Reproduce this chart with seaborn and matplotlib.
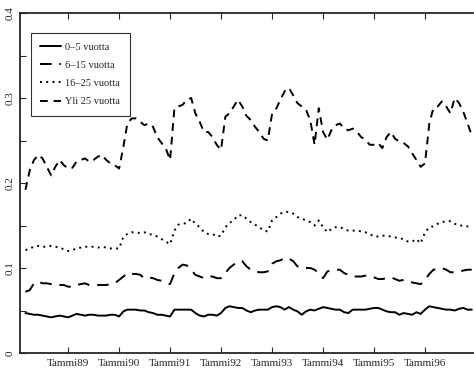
import pandas as pd
import numpy as np
import matplotlib.pyplot as plt
import seaborn as sns

# Monthly shares, March 1988 - December 1996
months = pd.date_range("1988-03-01", "1996-12-01", freq="MS")

ika_0_5 = [
    0.047, 0.046, 0.045, 0.045, 0.044, 0.043, 0.042, 0.043, 0.044, 0.043,
    0.042, 0.044, 0.046, 0.045, 0.044, 0.045, 0.045, 0.044, 0.044, 0.044, 0.045, 0.045,
    0.043, 0.049, 0.051, 0.051, 0.051, 0.050, 0.050, 0.048, 0.047, 0.045, 0.045, 0.044,
    0.043, 0.051, 0.051, 0.051, 0.051, 0.051, 0.047, 0.044, 0.043, 0.045, 0.045, 0.044,
    0.047, 0.053, 0.055, 0.054, 0.053, 0.053, 0.050, 0.048, 0.050, 0.051, 0.051, 0.051,
    0.054, 0.055, 0.054, 0.051, 0.054, 0.051, 0.049, 0.045, 0.049, 0.051, 0.050, 0.052,
    0.054, 0.053, 0.052, 0.051, 0.051, 0.048, 0.047, 0.051, 0.051, 0.051, 0.051, 0.052,
    0.053, 0.053, 0.051, 0.049, 0.048, 0.048, 0.045, 0.047, 0.046, 0.045, 0.048, 0.046,
    0.051, 0.055, 0.054, 0.053, 0.052, 0.051, 0.051, 0.050, 0.052, 0.053, 0.051, 0.051,
]
ika_6_15 = [
    0.072, 0.074, 0.082, 0.084, 0.082, 0.082, 0.081, 0.080, 0.080, 0.080,
    0.078, 0.078, 0.080, 0.081, 0.082, 0.080, 0.080, 0.080, 0.080, 0.080, 0.081, 0.082,
    0.086, 0.090, 0.094, 0.093, 0.093, 0.092, 0.088, 0.089, 0.088, 0.086, 0.085, 0.083,
    0.081, 0.094, 0.100, 0.104, 0.103, 0.098, 0.092, 0.090, 0.088, 0.090, 0.090, 0.088,
    0.088, 0.094, 0.100, 0.104, 0.108, 0.108, 0.102, 0.098, 0.096, 0.095, 0.095, 0.096,
    0.105, 0.108, 0.109, 0.112, 0.111, 0.108, 0.102, 0.100, 0.100, 0.100, 0.098, 0.094,
    0.088, 0.096, 0.097, 0.098, 0.098, 0.094, 0.092, 0.090, 0.090, 0.090, 0.091, 0.091,
    0.089, 0.087, 0.087, 0.088, 0.089, 0.087, 0.085, 0.086, 0.084, 0.083, 0.082, 0.081,
    0.086, 0.093, 0.098, 0.099, 0.100, 0.098, 0.095, 0.095, 0.096, 0.097, 0.098, 0.098,
]
ika_16_25 = [
    0.121, 0.123, 0.125, 0.126, 0.125, 0.125, 0.126, 0.125, 0.124, 0.122,
    0.120, 0.121, 0.123, 0.124, 0.125, 0.125, 0.125, 0.124, 0.125, 0.124, 0.123, 0.123,
    0.123, 0.137, 0.140, 0.142, 0.142, 0.141, 0.142, 0.140, 0.139, 0.137, 0.134, 0.131,
    0.128, 0.144, 0.151, 0.152, 0.153, 0.158, 0.152, 0.148, 0.142, 0.140, 0.140, 0.137,
    0.138, 0.148, 0.153, 0.156, 0.162, 0.162, 0.158, 0.154, 0.151, 0.148, 0.144, 0.143,
    0.156, 0.160, 0.164, 0.166, 0.166, 0.164, 0.160, 0.158, 0.156, 0.154, 0.150, 0.156,
    0.148, 0.142, 0.146, 0.148, 0.148, 0.146, 0.144, 0.144, 0.144, 0.143, 0.142, 0.140,
    0.137, 0.137, 0.138, 0.138, 0.137, 0.136, 0.135, 0.134, 0.131, 0.131, 0.134, 0.129,
    0.142, 0.148, 0.149, 0.152, 0.154, 0.155, 0.155, 0.152, 0.151, 0.149, 0.149, 0.149,
]
yli_25 = [
    0.192, 0.215, 0.227, 0.233, 0.229, 0.219, 0.209, 0.219, 0.227, 0.221,
    0.217, 0.218, 0.225, 0.227, 0.229, 0.225, 0.227, 0.231, 0.233, 0.227, 0.223, 0.221,
    0.217, 0.243, 0.270, 0.276, 0.276, 0.272, 0.268, 0.270, 0.266, 0.254, 0.247, 0.241,
    0.227, 0.288, 0.290, 0.292, 0.298, 0.300, 0.282, 0.272, 0.260, 0.260, 0.254, 0.245,
    0.239, 0.278, 0.282, 0.290, 0.298, 0.290, 0.279, 0.274, 0.266, 0.260, 0.252, 0.250,
    0.282, 0.288, 0.298, 0.308, 0.312, 0.303, 0.294, 0.290, 0.286, 0.274, 0.245, 0.288,
    0.260, 0.251, 0.262, 0.268, 0.270, 0.264, 0.262, 0.264, 0.260, 0.254, 0.251, 0.245,
    0.245, 0.247, 0.241, 0.254, 0.260, 0.252, 0.249, 0.247, 0.243, 0.235, 0.227, 0.219,
    0.223, 0.270, 0.288, 0.290, 0.296, 0.290, 0.282, 0.300, 0.294, 0.284, 0.270, 0.256,
]

groups = ["0–5 vuotta", "6–15 vuotta", "16–25 vuotta", "Yli 25 vuotta"]
tick_dates = pd.date_range("1989-01-01", "1996-01-01", freq="YS")
tick_labels = ["Tammi89", "Tammi90", "Tammi91", "Tammi92",
               "Tammi93", "Tammi94", "Tammi95", "Tammi96"]

df = pd.concat([
    pd.DataFrame({"kk": months, "osuus": vals, "ryhma": g})
    for g, vals in zip(groups, [ika_0_5, ika_6_15, ika_16_25, yli_25])
])

sns.set_style("ticks")
plt.rcParams["font.family"] = ["Liberation Serif", "DejaVu Serif"]

fig = plt.figure(figsize=(4.74, 3.76), dpi=100)
ax = fig.add_axes([20 / 474, 23 / 376, 454 / 474, 340 / 376])

dash_styles = {
    "0–5 vuotta": "",
    "6–15 vuotta": (6, 4),
    "16–25 vuotta": (1, 2.2),
    "Yli 25 vuotta": (4, 3),
}
sns.lineplot(data=df, x="kk", y="osuus", style="ryhma", style_order=groups,
             dashes=dash_styles, color="black", lw=1.4, estimator=None,
             ax=ax)

ax.set_xlim(pd.Timestamp("1988-01-22"), pd.Timestamp("1996-12-17"))
ax.set_ylim(0, 0.4)
ax.set_xticks(tick_dates)
ax.set_xticklabels(tick_labels, fontsize=8)
ax.set_yticks(np.arange(0, 0.401, 0.05))
ax.set_yticklabels(["0", "", "0.1", "", "0.2", "", "0.3", "", "0.4"],
                   rotation=90, va="center", fontsize=8)
ax.tick_params(direction="in", length=4, width=0.8, top=True, pad=4)
ax.set_xlabel("")
ax.set_ylabel("")
for side in ["left", "bottom", "top"]:
    ax.spines[side].set_linewidth(1.3)
ax.spines["right"].set_visible(False)

handles, labels = ax.get_legend_handles_labels()
leg = ax.legend(handles, labels, loc="upper left",
                bbox_to_anchor=(0.024, 0.941), borderaxespad=0,
                fontsize=7.5, frameon=True, fancybox=False,
                edgecolor="black", handlelength=2.0, handletextpad=0.4,
                labelspacing=0.85, borderpad=0.9)
leg.get_frame().set_linewidth(0.8)

plt.savefig("out.png", dpi=100)
